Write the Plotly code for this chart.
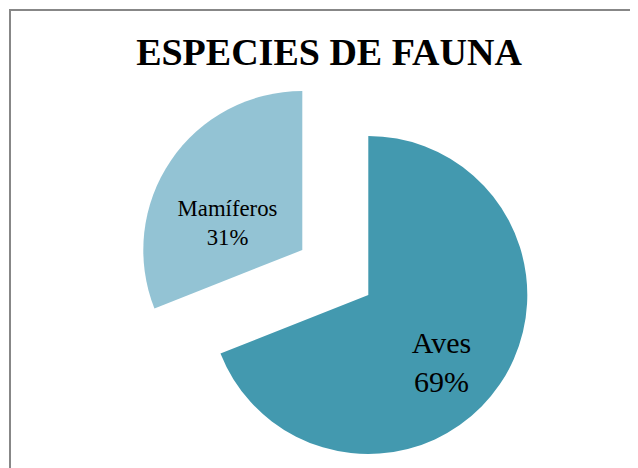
import plotly.graph_objects as go

labels = ["Aves", "Mamíferos"]
values = [69, 31]
colors = ["#4399AF", "#93C3D4"]
label_sizes = [30, 24]
title_text = "ESPECIES DE FAUNA"

W, H = 638, 468
OFF = 8  # page body margin
R = 159
centers = [(368.3 - OFF, 295.0 - OFF), (302.3 - OFF, 250.0 - OFF)]  # Aves in place, Mamíferos pulled out
templates = [
    "<span style='font-size:36px'>&nbsp;</span><br>&nbsp;&nbsp;%{label}<br>&nbsp;&nbsp;%{percent:.0%}",
    "<span style='font-size:40px'>&nbsp;</span><br>%{label}&nbsp;<br>%{percent:.0%}&nbsp;",
]

def domain_for(cx, cy):
    return dict(x=[(cx - R) / W, (cx + R) / W],
                y=[1 - (cy + R) / H, 1 - (cy - R) / H])

SERIF = "Liberation Serif, Times New Roman, serif"

fig = go.Figure()
for i, (cx, cy) in enumerate(centers):
    mcol = ["rgba(0,0,0,0)"] * len(values)
    mcol[i] = colors[i]
    tmpl = [""] * len(values)
    tmpl[i] = templates[i]
    fig.add_trace(go.Pie(
        labels=labels, values=values, sort=False, direction="clockwise", rotation=0,
        marker=dict(colors=mcol, line=dict(width=0)),
        texttemplate=tmpl, textposition="inside", insidetextorientation="horizontal",
        insidetextfont=dict(family=SERIF, size=label_sizes, color="black"),
        textfont=dict(family=SERIF, size=label_sizes, color="black"),
        domain=domain_for(cx, cy), hoverinfo="skip", showlegend=False,
    ))

fig.update_layout(
    width=W, height=H, autosize=False,
    margin=dict(l=0, r=0, t=0, b=0),
    font=dict(family=SERIF, color="black"),
    paper_bgcolor="white", plot_bgcolor="white",
    title=dict(text=title_text, x=(329 - OFF) / W, xanchor="center", y=1 - (52 - OFF) / H,
               yanchor="middle", yref="container",
               font=dict(family=SERIF, size=38, color="black", weight="bold")),
    shapes=[dict(type="rect", xref="paper", yref="paper",
                 x0=(10 - OFF) / W, x1=1.2, y0=-0.2, y1=1 - (10 - OFF) / H,
                 line=dict(color="#878787", width=2), fillcolor="rgba(0,0,0,0)", layer="below")],
)

fig.write_html("out.html")
